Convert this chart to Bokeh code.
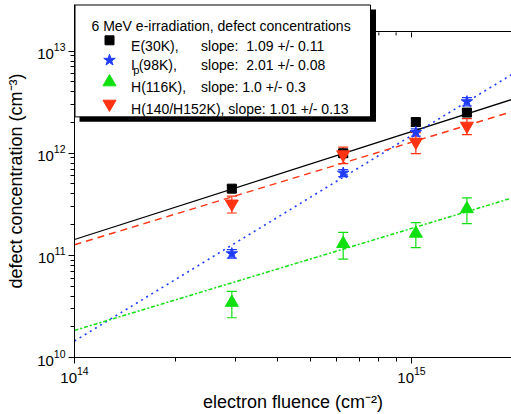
from bokeh.plotting import figure
from bokeh.models import (Range1d, LinearScale, FixedTicker, Whisker,
                          ColumnDataSource, TeeHead)
from bokeh.core.properties import value
from bokeh.embed import file_html
from bokeh.resources import INLINE

# ---------------- data ----------------
fluence = [2.93e14, 6.27e14, 1.03e15, 1.46e15]

conc_E30 = [4.5e11, 1.0e12, 2.02e12, 2.5e12]
err_E30 = [0.35e11, 0.8e11, 0.17e12, 0.2e12]
conc_Ip98 = [1.04e11, 6.4e11, 1.6e12, 3.2e12]
err_Ip98 = [0.1e11, 0.5e11, 0.13e12, 0.3e12]
conc_H116 = [3.45e10, 1.3e11, 1.64e11, 2.85e11]
err_H116 = [1.0e10, 0.38e11, 0.45e11, 0.8e11]
conc_H140 = [3.2e11, 9.7e11, 1.29e12, 1.85e12]
err_H140 = [0.6e11, 1.8e11, 0.3e12, 0.33e12]

fit_fluence = [1e14, 2e15]
fit_E30 = [1.43e11, 3.39e12]
fit_Ip98 = [1.45e10, 6.0e12]
fit_H116 = [1.84e10, 3.67e11]
fit_H140 = [1.27e11, 2.57e12]

legend_title = "6 MeV e-irradiation, defect concentrations"
series_labels = ["E(30K),", "I", "H(116K),", "H(140/H152K), slope: 1.01 +/- 0.13"]
slope_labels = ["slope:\u00a0 1.09 +/- 0.11", "slope:\u00a0 2.01 +/- 0.08",
                "slope: 1.0 +/- 0.3", ""]

x_ticks = [1e14, 1e15]
y_ticks = [1e10, 1e11, 1e12, 1e13]
x_min, x_max = 1e14, 1.98e15
y_min, y_max = 1e10, 2.86e13   # frame extends up under the legend
y_box_top = 1.54e13            # upper frame line of the original box
x_label = "electron fluence (cm\u207b\u00b2)"
y_label = "defect concentration (cm\u207b\u00b3)"

# ---------------- styles ----------------
FONT = "Liberation Sans"
C_BLACK = "#000000"
C_BLUE = "#1f3cff"
C_GREEN = "#10e010"
C_RED = "#ff3311"

x_minor = [m * 10.0 ** e for e in range(13, 16) for m in range(2, 10)]
y_minor = [m * 10.0 ** e for e in range(9, 13) for m in range(2, 10)]

p = figure(width=511, height=414, x_axis_type="log", y_axis_type="log",
           x_range=Range1d(x_min, x_max), y_range=Range1d(y_min, y_max),
           output_backend="svg", toolbar_location=None,
           min_border_left=74, min_border_right=0, min_border_top=4,
           min_border_bottom=55)
p.outline_line_color = None
p.grid.visible = False
p.background_fill_color = "white"
p.border_fill_color = "white"

# pixel-space ranges (canvas pixels) for the legend layout
p.extra_x_ranges = {"px": Range1d(74, 511)}
p.extra_x_scales = {"px": LinearScale()}
p.extra_y_ranges = {"py": Range1d(359, 4)}
p.extra_y_scales = {"py": LinearScale()}

p.xaxis.ticker = FixedTicker(ticks=x_ticks, minor_ticks=x_minor)
p.yaxis.ticker = FixedTicker(ticks=y_ticks, minor_ticks=y_minor)
for ax in (p.xaxis[0], p.yaxis[0]):
    ax.axis_line_color = "black"
    ax.major_tick_line_color = "black"
    ax.minor_tick_line_color = "black"
    ax.major_tick_in = 0
    ax.minor_tick_in = 0
    ax.major_tick_out = 6
    ax.minor_tick_out = 4
    ax.major_label_text_font = FONT
    ax.major_label_text_font_size = "15px"
    ax.major_label_text_color = "black"
    ax.axis_label_text_font = FONT
    ax.axis_label_text_font_size = "18px"
    ax.axis_label_text_font_style = "normal"
    ax.axis_label_text_color = "black"
p.xaxis.axis_label = x_label
p.yaxis.axis_label = y_label
p.xaxis.major_label_standoff = 3
p.yaxis.major_label_standoff = 3
p.xaxis.axis_label_standoff = 6
p.yaxis.axis_label_standoff = 8

# upper frame line with inward ticks
p.hspan(y=[y_box_top], line_color="black", line_width=1)
top_major = [t for t in x_ticks]
top_minor = [t for t in x_minor if x_min < t < x_max]
p.segment(x0=top_major, x1=top_major, y0=[32] * len(top_major), y1=[37] * len(top_major),
          y_range_name="py", line_color="black", line_width=1)
p.segment(x0=top_minor, x1=top_minor, y0=[32] * len(top_minor), y1=[35] * len(top_minor),
          y_range_name="py", line_color="black", line_width=1)

# ---------------- fit lines ----------------
p.line(fit_fluence, fit_E30, line_color=C_BLACK, line_width=1.3)
p.line(fit_fluence, fit_Ip98, line_color=C_BLUE, line_width=1.6, line_dash="2 4")
p.line(fit_fluence, fit_H116, line_color=C_GREEN, line_width=1.5, line_dash="4 2 2 2")
p.line(fit_fluence, fit_H140, line_color=C_RED, line_width=1.4, line_dash="7 5")

# ---------------- data points with error bars ----------------
series = [
    (conc_E30, err_E30, C_BLACK, "square", 9),
    (conc_Ip98, err_Ip98, C_BLUE, "star", 12),
    (conc_H116, err_H116, C_GREEN, "triangle", 13),
    (conc_H140, err_H140, C_RED, "inverted_triangle", 13),
]
for vals, errs, col, mk, sz in series:
    src = ColumnDataSource(dict(x=fluence, y=vals,
                                lo=[v - e for v, e in zip(vals, errs)],
                                hi=[v + e for v, e in zip(vals, errs)]))
    w = Whisker(source=src, base="x", lower="lo", upper="hi", dimension="height",
                line_color=col, line_width=1.2, level="underlay",
                upper_head=TeeHead(size=10, line_color=col, line_width=1.2),
                lower_head=TeeHead(size=10, line_color=col, line_width=1.2))
    p.add_layout(w)
    p.scatter("x", "y", source=src, marker=mk, size=sz, fill_color=col, line_color=col)

# ---------------- legend (drawn by hand, canvas-pixel layout) ----------------
LG = dict(x_range_name="px", y_range_name="py", level="overlay")
p.quad(left=[79], right=[375.5], top=[9], bottom=[122], fill_color="black",
       line_color=None, **LG)
p.quad(left=[74.5], right=[370], top=[4.5], bottom=[117], fill_color="white",
       line_color="black", line_width=1, **LG)

def lab(x, y, text, size="14px"):
    p.text(x=[x], y=[y], text=[text], text_font=value(FONT), text_font_size=value(size),
           text_color="black", text_baseline="alphabetic", text_align="left", **LG)

lab(91, 26, legend_title)
row_base = [45.7, 65, 87.3, 109]
for i, t in enumerate(series_labels):
    lab(130.6, row_base[i], t)
lab(132.8, 69.5, "p", size="11px")
lab(138.2, 65, "(98K),")
for i, t in enumerate(slope_labels):
    if t:
        lab(200.6, row_base[i], t)

row_mid = [40, 60, 82, 104]
for i, (vals, errs, col, mk, sz) in enumerate(series):
    p.scatter([109], [row_mid[i]], marker=mk, size=sz, fill_color=col, line_color=col, **LG)

open("out.html", "w").write(file_html(p, INLINE))
